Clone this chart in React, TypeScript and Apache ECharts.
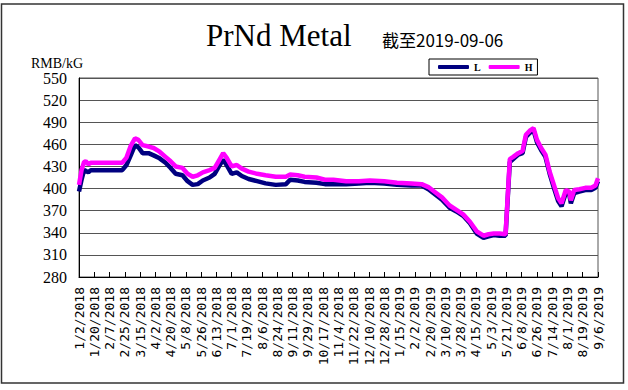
import React, { useEffect, useRef } from "react";
import * as echarts from "echarts";

const dates = [
  "2018-01-02", "2018-01-05", "2018-01-08", "2018-01-10", "2018-01-13", "2018-01-16",
  "2018-02-01", "2018-02-22", "2018-02-27", "2018-03-04", "2018-03-09", "2018-03-13",
  "2018-03-18", "2018-03-25", "2018-03-31", "2018-04-07", "2018-04-14", "2018-04-20",
  "2018-04-26", "2018-05-04", "2018-05-10", "2018-05-16", "2018-05-22", "2018-05-28",
  "2018-06-05", "2018-06-11", "2018-06-17", "2018-06-21", "2018-06-25", "2018-07-01",
  "2018-07-07", "2018-07-13", "2018-07-21", "2018-07-31", "2018-08-10", "2018-08-22",
  "2018-09-03", "2018-09-08", "2018-09-17", "2018-09-25", "2018-10-09", "2018-10-19",
  "2018-10-29", "2018-11-13", "2018-11-28", "2018-12-11", "2018-12-28", "2019-01-12",
  "2019-01-29", "2019-02-10", "2019-02-18", "2019-02-26", "2019-03-06", "2019-03-15",
  "2019-03-23", "2019-03-31", "2019-04-08", "2019-04-16", "2019-04-24", "2019-04-30",
  "2019-05-06", "2019-05-13", "2019-05-20", "2019-05-25", "2019-05-29", "2019-06-04",
  "2019-06-09", "2019-06-13", "2019-06-18", "2019-06-22", "2019-06-26", "2019-07-01",
  "2019-07-06", "2019-07-11", "2019-07-16", "2019-07-21", "2019-07-25", "2019-07-30",
  "2019-08-03", "2019-08-05", "2019-08-09", "2019-08-15", "2019-08-22", "2019-08-29",
  "2019-09-03", "2019-09-06",
];

const lowPrices = [
  396, 412, 425, 424, 422, 425,
  425, 425, 432, 445, 459, 456,
  448, 448, 445, 441, 435, 428,
  420, 418, 410, 405, 406, 411,
  415, 420, 432, 439, 432, 420,
  422, 417, 413, 410, 407, 405,
  406, 412, 411, 409, 408, 406,
  406, 406, 407, 408, 407, 405,
  404, 404, 399, 392, 385, 374,
  369, 363, 353, 339, 333, 335,
  337, 336, 336, 436, 440, 446,
  448, 470, 476, 479, 463, 452,
  443, 420, 401, 383, 376, 394,
  393, 380, 394, 396, 398, 398,
  401, 410,
];

const highPrices = [
  405, 425, 436, 437, 433, 435,
  435, 435, 442, 458, 468, 466,
  459, 457, 455, 450, 443, 437,
  430, 428, 420, 416, 418, 422,
  425, 428, 440, 448, 442, 430,
  432, 427, 423, 420, 418, 416,
  416, 419, 418, 416, 415, 412,
  412, 410, 410, 411, 410, 408,
  407, 406, 402, 395, 388, 377,
  371, 365, 355, 342, 336, 338,
  339, 339, 338, 440, 443, 448,
  451, 473, 479, 482, 466, 455,
  446, 423, 405, 387, 380, 398,
  396, 384, 398, 399, 401, 401,
  404, 414,
];

const seriesNames = ["L", "H"];
const seriesColors = ["#000080", "#FF00FF"];
const startDate = "2018-01-02";
const endDate = "2019-09-06";
const yMin = 280;
const yMax = 550;
const yStep = 30;
const xStepDays = 18;

const DAY = 86400000;
function toUTC(s: string) {
  const [y, m, d] = s.split("-").map(Number);
  return Date.UTC(y, m - 1, d);
}
function dayIndex(s: string) {
  return Math.round((toUTC(s) - toUTC(startDate)) / DAY);
}
function dayLabel(i: number) {
  const dt = new Date(toUTC(startDate) + i * DAY);
  return `${dt.getUTCMonth() + 1}/${dt.getUTCDate()}/${dt.getUTCFullYear()}`;
}

export default function App() {
  const ref = useRef<HTMLDivElement>(null);
  useEffect(() => {
    if (!ref.current) return;
    const chart = echarts.init(ref.current, null, { renderer: "svg" });
    const lastDay = dayIndex(endDate);
    const option: any = {
      animation: false,
      backgroundColor: "#ffffff",
      grid: {
        left: 79,
        top: 78,
        width: 519,
        height: 199,
        show: true,
        borderColor: "#555555",
        borderWidth: 1,
        containLabel: false,
      },
      legend: {
        data: seriesNames,
        left: 429,
        top: 59,
        icon: "roundRect",
        itemWidth: 31,
        itemHeight: 4,
        itemGap: 8,
        padding: [2, 5, 2, 9],
        borderColor: "#000000",
        borderWidth: 1,
        backgroundColor: "#ffffff",
        textStyle: {
          fontFamily: "Liberation Serif",
          fontWeight: "bold",
          fontSize: 10,
          lineHeight: 12,
          color: "#000000",
        },
      },
      xAxis: {
        type: "value",
        min: 0,
        max: lastDay,
        interval: xStepDays,
        axisLine: { show: true, lineStyle: { color: "#000000", width: 1 } },
        axisTick: { show: true, inside: true, length: 5, lineStyle: { color: "#000000" } },
        splitLine: { show: false },
        axisLabel: {
          rotate: 90,
          margin: 10,
          fontFamily: "DejaVu Sans Mono",
          fontSize: 13,
          color: "#000000",
          showMinLabel: true,
          showMaxLabel: true,
          formatter: (v: number) => dayLabel(v),
        },
      },
      yAxis: [
        {
          type: "value",
          min: yMin,
          max: yMax,
          show: false,
          splitLine: { show: false },
        },
        {
          type: "value",
          min: 0,
          max: yMax - yMin,
          interval: yStep,
          position: "left",
          axisLine: { show: true, lineStyle: { color: "#000000", width: 1 } },
          axisTick: { show: false },
          splitLine: { show: true, lineStyle: { color: "#555555", width: 1 } },
          axisLabel: {
            margin: 12,
            fontFamily: "Liberation Serif",
            fontSize: 16,
            color: "#000000",
            formatter: (v: number) => String(v + yMin),
          },
        },
      ],
      graphic: [
        {
          type: "rect",
          shape: { x: 1.5, y: 4, width: 622, height: 379 },
          style: { fill: "none", stroke: "#333333", lineWidth: 1.5 },
          silent: true,
        },
        {
          type: "text",
          x: 206,
          y: 35,
          style: {
            text: "PrNd Metal",
            font: "31px 'Liberation Serif'",
            fill: "#000000",
            textAlign: "left",
            textVerticalAlign: "middle",
          },
        },
        {
          type: "text",
          x: 382,
          y: 39,
          style: {
            text: "截至2019-09-06",
            font: "17px 'Noto Sans CJK JP'",
            fill: "#000000",
            textAlign: "left",
            textVerticalAlign: "middle",
          },
        },
        {
          type: "text",
          x: 31,
          y: 63,
          style: {
            text: "RMB/kG",
            font: "14px 'Liberation Serif'",
            fill: "#000000",
            textAlign: "left",
            textVerticalAlign: "middle",
          },
        },
      ],
      series: [
        {
          name: seriesNames[0],
          type: "line",
          yAxisIndex: 0,
          showSymbol: false,
          symbol: "none",
          data: dates.map((d, i) => [dayIndex(d), lowPrices[i]]),
          lineStyle: { color: seriesColors[0], width: 4.5 },
          itemStyle: { color: seriesColors[0] },
          z: 3,
        },
        {
          name: seriesNames[1],
          type: "line",
          yAxisIndex: 0,
          showSymbol: false,
          symbol: "none",
          data: dates.map((d, i) => [dayIndex(d), highPrices[i]]),
          lineStyle: { color: seriesColors[1], width: 4.5 },
          itemStyle: { color: seriesColors[1] },
          z: 4,
        },
      ],
    };
    chart.setOption(option);
    return () => chart.dispose();
  }, []);
  return (
    <div
      ref={ref}
      style={{ position: "absolute", left: 0, top: 0, width: 628, height: 390 }}
    />
  );
}
